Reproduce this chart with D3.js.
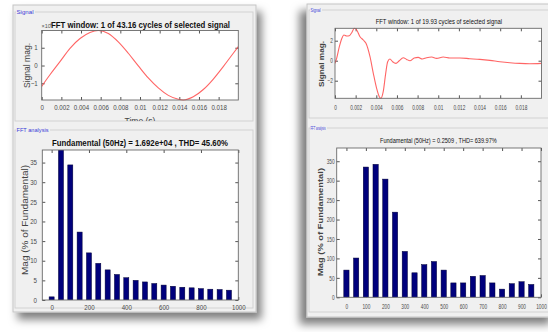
<!DOCTYPE html>
<html>
<head>
<meta charset="utf-8">
<script src="https://cdn.jsdelivr.net/npm/d3@7"></script>
<style>
  html, body { margin: 0; padding: 0; background: #fff; }
  svg { display: block; font-family: "Liberation Sans", Arial, sans-serif; }
</style>
</head>
<body>
<div id="chart"></div>
<script>
// signal window (time in s, magnitude)
const leftSigT = [0, 0.00084, 0.00186, 0.00288, 0.0039, 0.00491, 0.00576, 0.00678, 0.00779, 0.00881,
  0.00983, 0.01084, 0.01186, 0.01288, 0.0139, 0.0144, 0.01542, 0.01644, 0.01746, 0.01847, 0.01949, 0.02];
const leftSigV = [-1.17, -0.52, 0.22, 0.97, 1.52, 1.86, 1.97, 1.8, 1.33, 0.69,
  -0.02, -0.7, -1.26, -1.68, -1.9, -1.94, -1.76, -1.35, -0.76, -0.06, 0.69, 1.06]; // x 10^4

const rightSigT = [0, 0.00016, 0.00042, 0.00065, 0.00087, 0.00113, 0.00138, 0.00162, 0.00187, 0.0021,
  0.00242, 0.00274, 0.003, 0.00339, 0.00371, 0.00403, 0.00429, 0.00445, 0.00467, 0.00491,
  0.0051, 0.00532, 0.00558, 0.0059, 0.00622, 0.00661, 0.00694, 0.00726, 0.00767, 0.00806,
  0.00845, 0.00887, 0.00936, 0.00984, 0.01048, 0.01113, 0.0121, 0.01306, 0.01403, 0.015,
  0.01597, 0.01693, 0.0179, 0.01887, 0.02];
const rightSigV = [-0.27, 0.24, 1.4, 2.2, 2.57, 2.47, 2.5, 2.8, 3.24, 3.07,
  2.4, 2.07, 1.74, 0.4, -1.26, -2.76, -3.6, -3.76, -3.1, -1.26,
  -0.1, 0.17, -0.1, -0.27, 0, 0.3, 0.13, 0, 0.27, 0.33,
  0.17, 0.3, 0.37, 0.23, 0.37, 0.27, 0.27, 0.2, 0.13, 0.03,
  -0.1, -0.2, -0.27, -0.3, -0.27];

// harmonic spectrum
const harmonicsHz = [0, 50, 100, 150, 200, 250, 300, 350, 400, 450, 500, 550, 600, 650, 700, 750, 800, 850, 900, 950];
const leftMag = [0.8, 100, 34.4, 17.3, 12, 9.33, 7.67, 6.5, 5.67, 5, 4.6, 4.2, 3.8, 3.5, 3.25, 3.1, 2.9, 2.75, 2.67, 2.5];
const rightMag = [70, 101, 335, 342, 304, 219, 118, 63, 84, 92, 70, 37, 37, 54, 56, 37, 21, 35, 40, 33];

// tick labels
const timeTicks = [0, 0.002, 0.004, 0.006, 0.008, 0.01, 0.012, 0.014, 0.016, 0.018];
const leftSigTicks = [-1, 0, 1];
const rightSigTicks = [-2, 0, 2];
const leftFreqTicks = [0, 200, 400, 600, 800, 1000];
const rightFreqTicks = [0, 100, 200, 300, 400, 500, 600, 700, 800, 900, 1000];
const leftMagTicks = [0, 5, 10, 15, 20, 25, 30, 35];
const rightMagTicks = [0, 50, 100, 150, 200, 250, 300, 350];

const leftTitles = ['FFT window: 1 of 43.16 cycles of selected signal', 'Fundamental (50Hz) = 1.692e+04 , THD= 45.60%'];
const rightTitles = ['FFT window: 1 of 19.93 cycles of selected signal', 'Fundamental (50Hz) = 0.2509 , THD= 639.97%'];

const width = 548, height = 332;
const svg = d3.select('#chart').append('svg').attr('width', width).attr('height', height);
const defs = svg.append('defs');

function shadow(id, dx, dy) {
  const f = defs.append('filter').attr('id', id)
    .attr('x', '-20%').attr('y', '-20%').attr('width', '140%').attr('height', '140%');
  f.append('feDropShadow').attr('dx', dx).attr('dy', dy).attr('stdDeviation', 4.5)
    .attr('flood-color', '#000').attr('flood-opacity', 0.5);
}
shadow('shL', 5, 7);
shadow('shR', -7, 7);

const fmtTime = d => d === 0 ? '0' : String(+d.toFixed(3));
const fmtInt = d3.format('d');

function frame(g, x, y, w, h, filter) {
  g.append('rect').attr('x', x).attr('y', y).attr('width', w).attr('height', h)
    .attr('fill', '#f0f0f0').attr('stroke', '#c4c4c4').attr('filter', `url(#${filter})`);
}

function groupBox(g, x, y, w, h, label, labelW, fs) {
  g.append('rect').attr('x', x).attr('y', y).attr('width', w).attr('height', h)
    .attr('fill', 'none').attr('stroke', '#d2d2d2');
  g.append('rect').attr('x', x + 1).attr('y', y - 3).attr('width', labelW + 2).attr('height', 6)
    .attr('fill', '#f0f0f0');
  g.append('text').attr('x', x + 1.5).attr('y', y + 2)
    .attr('font-size', fs).attr('fill', '#3a3ad8')
    .attr('textLength', labelW).attr('lengthAdjust', 'spacingAndGlyphs')
    .text(label);
}

// MATLAB-style axes box: ticks inward on all four sides
function axesBox(g, x, y, o) {
  const [x0, x1] = x.range(), [y1, y0] = y.range();
  g.append('rect').attr('x', x0).attr('y', y0).attr('width', x1 - x0).attr('height', y1 - y0)
    .attr('fill', '#fff');
  const style = sel => {
    sel.select('.domain').remove();
    sel.selectAll('line').attr('stroke', '#555');
    sel.selectAll('text').attr('fill', '#4a4a4a').attr('font-size', o.fs);
  };
  const bottom = g.append('g').attr('transform', `translate(0,${y1})`)
    .call(d3.axisBottom(x).tickValues(o.xTicks).tickFormat(o.xFmt).tickSizeInner(-3).tickSizeOuter(0).tickPadding(o.xPad))
    .call(style);
  bottom.selectAll('text').attr('transform', `scale(${o.sx},1)`);
  g.append('g').attr('transform', `translate(0,${y0})`)
    .call(d3.axisTop(x).tickValues(o.xTicks).tickFormat('').tickSizeInner(-3).tickSizeOuter(0))
    .call(style);
  const left = g.append('g').attr('transform', `translate(${x0},0)`)
    .call(d3.axisLeft(y).tickValues(o.yTicks).tickFormat(fmtInt).tickSizeInner(-3).tickSizeOuter(0).tickPadding(o.yPad))
    .call(style);
  left.selectAll('text').attr('transform', `scale(${o.sx},1)`);
  g.append('g').attr('transform', `translate(${x1},0)`)
    .call(d3.axisRight(y).tickValues(o.yTicks).tickFormat('').tickSizeInner(-3).tickSizeOuter(0))
    .call(style);
}

function outline(g, x, y) {
  const [x0, x1] = x.range(), [y1, y0] = y.range();
  g.append('rect').attr('x', x0).attr('y', y0).attr('width', x1 - x0).attr('height', y1 - y0)
    .attr('fill', 'none').attr('stroke', '#6a6a6a').attr('stroke-width', 0.9);
}

function title(g, text, x0, x1, yb, fs, weight) {
  g.append('text').attr('x', x0).attr('y', yb).attr('font-size', fs).attr('font-weight', weight)
    .attr('fill', '#111').attr('textLength', x1 - x0).attr('lengthAdjust', 'spacingAndGlyphs').text(text);
}

function yLabel(g, text, cx, cy, len, fs, weight) {
  g.append('text').attr('transform', `translate(${cx},${cy}) rotate(-90)`)
    .attr('text-anchor', 'middle').attr('dy', '0.35em')
    .attr('font-size', fs).attr('font-weight', weight).attr('fill', '#444')
    .attr('textLength', len).attr('lengthAdjust', 'spacingAndGlyphs').text(text);
}

function signalPlot(g, id, t, v, box, yDomain, yTicks, o) {
  const x = d3.scaleLinear().domain([0, 0.02]).range([box.x0, box.x1]);
  const y = d3.scaleLinear().domain(yDomain).range([box.y1, box.y0]);
  axesBox(g, x, y, { ...o, xTicks: timeTicks, xFmt: fmtTime, yTicks: yTicks });
  defs.append('clipPath').attr('id', id).append('rect')
    .attr('x', box.x0).attr('y', box.y0 - 1).attr('width', box.x1 - box.x0).attr('height', box.y1 - box.y0 + 2);
  const line = d3.line().x(d => x(d[0])).y(d => y(d[1])).curve(d3.curveMonotoneX);
  g.append('path').datum(d3.zip(t, v)).attr('d', line)
    .attr('clip-path', `url(#${id})`)
    .attr('fill', 'none').attr('stroke', '#ff4a4a').attr('stroke-opacity', 0.85).attr('stroke-width', 1.1);
  outline(g, x, y);
}

function fftPlot(g, id, mags, box, yMax, xTicks, yTicks, o) {
  const x = d3.scaleLinear().domain([-50, 1000]).range([box.x0, box.x1]);
  const y = d3.scaleLinear().domain([0, yMax]).range([box.y1, box.y0]);
  axesBox(g, x, y, { ...o, xTicks: xTicks, xFmt: fmtInt, yTicks: yTicks });
  defs.append('clipPath').attr('id', id).append('rect')
    .attr('x', box.x0).attr('y', box.y0).attr('width', box.x1 - box.x0).attr('height', box.y1 - box.y0);
  const half = 13.5;
  g.append('g').attr('clip-path', `url(#${id})`)
    .selectAll('rect').data(d3.zip(harmonicsHz, mags)).enter().append('rect')
    .attr('x', d => x(d[0] - half))
    .attr('width', d => x(d[0] + half) - x(d[0] - half))
    .attr('y', d => y(d[1]))
    .attr('height', d => y(0) - y(d[1]))
    .attr('fill', '#00007c').attr('stroke', '#000035').attr('stroke-width', 0.5);
  outline(g, x, y);
}

// ---------- left screenshot ----------
const L = svg.append('g');
frame(L, 13, 5, 243, 307, 'shL');
groupBox(L, 15, 12, 238, 109, 'Signal', 17, 6);
groupBox(L, 15, 130, 238, 178, 'FFT analysis', 32, 6);

signalPlot(L, 'clipLS', leftSigT, leftSigV, { x0: 41.7, x1: 238.3, y0: 30.5, y1: 100 },
  [-1.94, 1.97], leftSigTicks, { fs: 7, sx: 0.88, xPad: 5, yPad: 4.5 });
title(L, leftTitles[0], 51, 230, 27.5, 8.6, 'bold');
L.append('text').attr('x', 41.5).attr('y', 28).attr('font-size', 5.5).attr('fill', '#555').text('×10');
L.append('text').attr('x', 50).attr('y', 25.5).attr('font-size', 4.5).attr('fill', '#555').text('4');
yLabel(L, 'Signal mag.', 27, 65.5, 45, 9, 'normal');
defs.append('clipPath').attr('id', 'clipTime').append('rect')
  .attr('x', 15).attr('y', 100).attr('width', 238).attr('height', 21);
L.append('text').attr('x', 140).attr('y', 123.5).attr('text-anchor', 'middle')
  .attr('font-size', 8.5).attr('fill', '#444').attr('clip-path', 'url(#clipTime)').text('Time (s)');

fftPlot(L, 'clipLF', leftMag, { x0: 42.3, x1: 238.3, y0: 150, y1: 300 }, 38.2,
  leftFreqTicks, leftMagTicks, { fs: 7, sx: 0.88, xPad: 5, yPad: 6 });
title(L, leftTitles[1], 52, 228, 146, 8.6, 'bold');
yLabel(L, 'Mag (% of Fundamental)', 25, 220, 110, 9, 'normal');

// ---------- right screenshot ----------
const R = svg.append('g');
frame(R, 307, 4, 250, 313, 'shR');
groupBox(R, 309, 10, 245, 108, 'Signal', 10, 5.5);
groupBox(R, 309, 128, 245, 184, 'FFT analysis', 15, 5.5);

signalPlot(R, 'clipRS', rightSigT, rightSigV, { x0: 335, x1: 541.5, y0: 28.3, y1: 98.3 },
  [-3.76, 3.24], rightSigTicks, { fs: 6.8, sx: 0.7, xPad: 6.5, yPad: 3 });
title(R, rightTitles[0], 375.7, 502, 24, 8, 'normal');
yLabel(R, 'Signal mag.', 321.5, 64, 46, 7.5, 'bold');

fftPlot(R, 'clipRF', rightMag, { x0: 336.7, x1: 541, y0: 148, y1: 297.3 }, 384,
  rightFreqTicks, rightMagTicks, { fs: 6.8, sx: 0.7, xPad: 6.5, yPad: 3 });
title(R, rightTitles[1], 380, 496.7, 143, 8, 'normal');
yLabel(R, 'Mag (% of Fundamental)', 320, 222, 108, 7.5, 'bold');
</script>
</body>
</html>
